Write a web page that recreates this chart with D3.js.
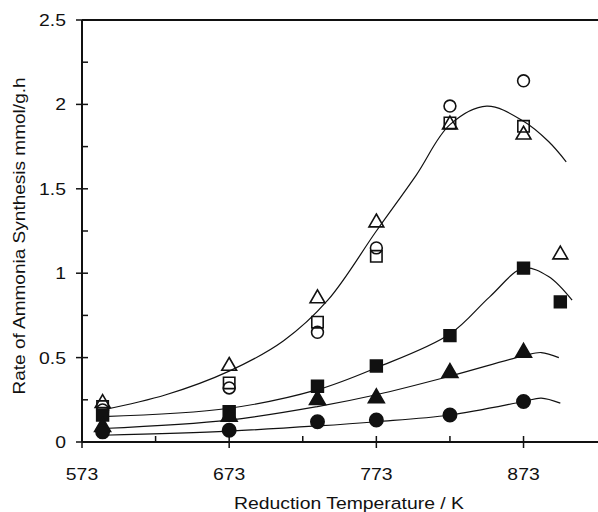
<!DOCTYPE html>
<html>
<head>
<meta charset="utf-8">
<script src="https://cdn.jsdelivr.net/npm/d3@7"></script>
<style>
  body { margin: 0; background: #fff; }
  svg { display: block; font-family: "Liberation Sans", Arial, sans-serif; }
  .tick-label { font-size: 17px; fill: #111; }
  .axis-title { font-size: 17px; fill: #111; }
</style>
</head>
<body>
<div id="chart"></div>
<script>
// measured points, K vs mmol/g.h
const temps = [587, 673, 733, 773, 823, 873, 898];

const openTriangle = [0.23, 0.45, 0.85, 1.30, 1.88, 1.82, 1.11];
const openSquare   = [0.21, 0.35, 0.71, 1.10, 1.89, 1.87, null];
const openCircle   = [0.19, 0.32, 0.65, 1.15, 1.99, 2.14, null];
const fullSquare   = [0.16, 0.18, 0.33, 0.45, 0.63, 1.03, 0.83];
const fullTriangle = [0.09, 0.15, 0.25, 0.26, 0.41, 0.53, null];
const fullCircle   = [0.06, 0.07, 0.12, 0.13, 0.16, 0.24, null];

// fitted curves
const topCurveX = [587, 630, 673, 710, 740, 773, 800, 823, 848, 873, 890, 902];
const topCurveY = [0.19, 0.28, 0.42, 0.60, 0.84, 1.25, 1.58, 1.88, 1.99, 1.90, 1.78, 1.66];
const squareCurveX = [587, 673, 733, 773, 823, 850, 873, 890, 906];
const squareCurveY = [0.15, 0.20, 0.31, 0.44, 0.64, 0.86, 1.03, 0.98, 0.84];
const triCurveX = [587, 673, 733, 773, 823, 873, 885, 897];
const triCurveY = [0.08, 0.13, 0.21, 0.28, 0.39, 0.51, 0.53, 0.50];
const circCurveX = [587, 673, 733, 773, 823, 873, 885, 898];
const circCurveY = [0.04, 0.065, 0.095, 0.12, 0.16, 0.24, 0.26, 0.23];

const xTicks = [573, 673, 773, 873];
const xMinor = [623, 723, 823];
const yTicks = [0, 0.5, 1, 1.5, 2, 2.5];
const yMinor = [0.25, 0.75, 1.25, 1.75, 2.25];

const width = 598;
const height = 512;
const plotLeft = 82, plotRight = 598, plotTop = 20, plotBottom = 442;
const stretch = 1.14; // the scanned lettering is a bit wide

const svg = d3.select('#chart')
    .append('svg')
        .attr('width', width)
        .attr('height', height);

const x = d3.scaleLinear()
    .domain([573, 923.6])
    .range([plotLeft, plotRight]);

const y = d3.scaleLinear()
    .domain([0, 2.5])
    .range([plotBottom, plotTop]);

// curves first so markers sit on top
const line = d3.line()
    .x(d => x(d[0]))
    .y(d => y(d[1]))
    .curve(d3.curveCatmullRom.alpha(0.5));

const curves = [
    [topCurveX, topCurveY],
    [squareCurveX, squareCurveY],
    [triCurveX, triCurveY],
    [circCurveX, circCurveY]
];

svg.selectAll('path.fit')
    .data(curves)
    .join('path')
        .attr('class', 'fit')
        .attr('d', c => line(c[0].map((t, i) => [t, c[1][i]])))
        .attr('fill', 'none')
        .attr('stroke', '#111')
        .attr('stroke-width', 1.2);

// axes
svg.append('line')
    .attr('x1', plotLeft).attr('x2', plotLeft)
    .attr('y1', plotTop).attr('y2', plotBottom)
    .attr('stroke', '#111').attr('stroke-width', 2);
svg.append('line')
    .attr('x1', plotLeft).attr('x2', plotRight)
    .attr('y1', plotBottom).attr('y2', plotBottom)
    .attr('stroke', '#111').attr('stroke-width', 2);
svg.append('line')
    .attr('x1', plotLeft).attr('x2', plotRight)
    .attr('y1', plotTop).attr('y2', plotTop)
    .attr('stroke', '#111').attr('stroke-width', 2);

// y ticks
svg.selectAll('line.ytick')
    .data(yTicks)
    .join('line')
        .attr('class', 'ytick')
        .attr('x1', plotLeft - 6).attr('x2', plotLeft + 6)
        .attr('y1', d => y(d)).attr('y2', d => y(d))
        .attr('stroke', '#111').attr('stroke-width', 1.5);
svg.selectAll('line.yminor')
    .data(yMinor)
    .join('line')
        .attr('class', 'yminor')
        .attr('x1', plotLeft).attr('x2', plotLeft + 6)
        .attr('y1', d => y(d)).attr('y2', d => y(d))
        .attr('stroke', '#111').attr('stroke-width', 1.5);
svg.selectAll('text.ylab')
    .data(yTicks)
    .join('text')
        .attr('class', 'tick-label ylab')
        .attr('transform', d => `translate(66,${y(d) + 6}) scale(${stretch},1)`)
        .attr('text-anchor', 'end')
        .text(d => d);

// x ticks
svg.selectAll('line.xtick')
    .data(xTicks)
    .join('line')
        .attr('class', 'xtick')
        .attr('x1', d => x(d)).attr('x2', d => x(d))
        .attr('y1', plotBottom - 6).attr('y2', plotBottom + 6)
        .attr('stroke', '#111').attr('stroke-width', 1.5);
svg.selectAll('line.xminor')
    .data(xMinor)
    .join('line')
        .attr('class', 'xminor')
        .attr('x1', d => x(d)).attr('x2', d => x(d))
        .attr('y1', plotBottom - 6).attr('y2', plotBottom)
        .attr('stroke', '#111').attr('stroke-width', 1.5);
svg.selectAll('text.xlab')
    .data(xTicks)
    .join('text')
        .attr('class', 'tick-label xlab')
        .attr('transform', d => `translate(${x(d)},480) scale(${stretch},1)`)
        .attr('text-anchor', 'middle')
        .text(d => d);

svg.append('text')
    .attr('class', 'axis-title')
    .attr('transform', `translate(349,509) scale(${stretch},1)`)
    .attr('text-anchor', 'middle')
    .text('Reduction Temperature / K');

svg.append('text')
    .attr('class', 'axis-title')
    .attr('transform', 'translate(25,236) rotate(-90) scale(1.12,1)')
    .attr('text-anchor', 'middle')
    .text('Rate of Ammonia Synthesis mmol/g.h');

// markers
const series = [
    { values: openCircle, shape: d3.symbolCircle, size: 110, filled: false },
    { values: openSquare, shape: d3.symbolSquare, size: 130, filled: false },
    { values: openTriangle, shape: d3.symbolTriangle, size: 95, filled: false },
    { values: fullSquare, shape: d3.symbolSquare, size: 140, filled: true },
    { values: fullTriangle, shape: d3.symbolTriangle, size: 110, filled: true },
    { values: fullCircle, shape: d3.symbolCircle, size: 140, filled: true }
];

series.forEach(s => {
    const pts = temps.map((t, i) => [t, s.values[i]]).filter(p => p[1] != null);
    svg.append('g')
        .selectAll('path')
        .data(pts)
        .join('path')
            .attr('transform', d => `translate(${x(d[0])},${y(d[1])})`)
            .attr('d', d3.symbol().type(s.shape).size(s.size))
            .attr('fill', s.filled ? '#111' : '#fff')
            .attr('fill-opacity', s.filled ? 1 : 0)
            .attr('stroke', '#111')
            .attr('stroke-width', 1.6);
});
</script>
</body>
</html>
